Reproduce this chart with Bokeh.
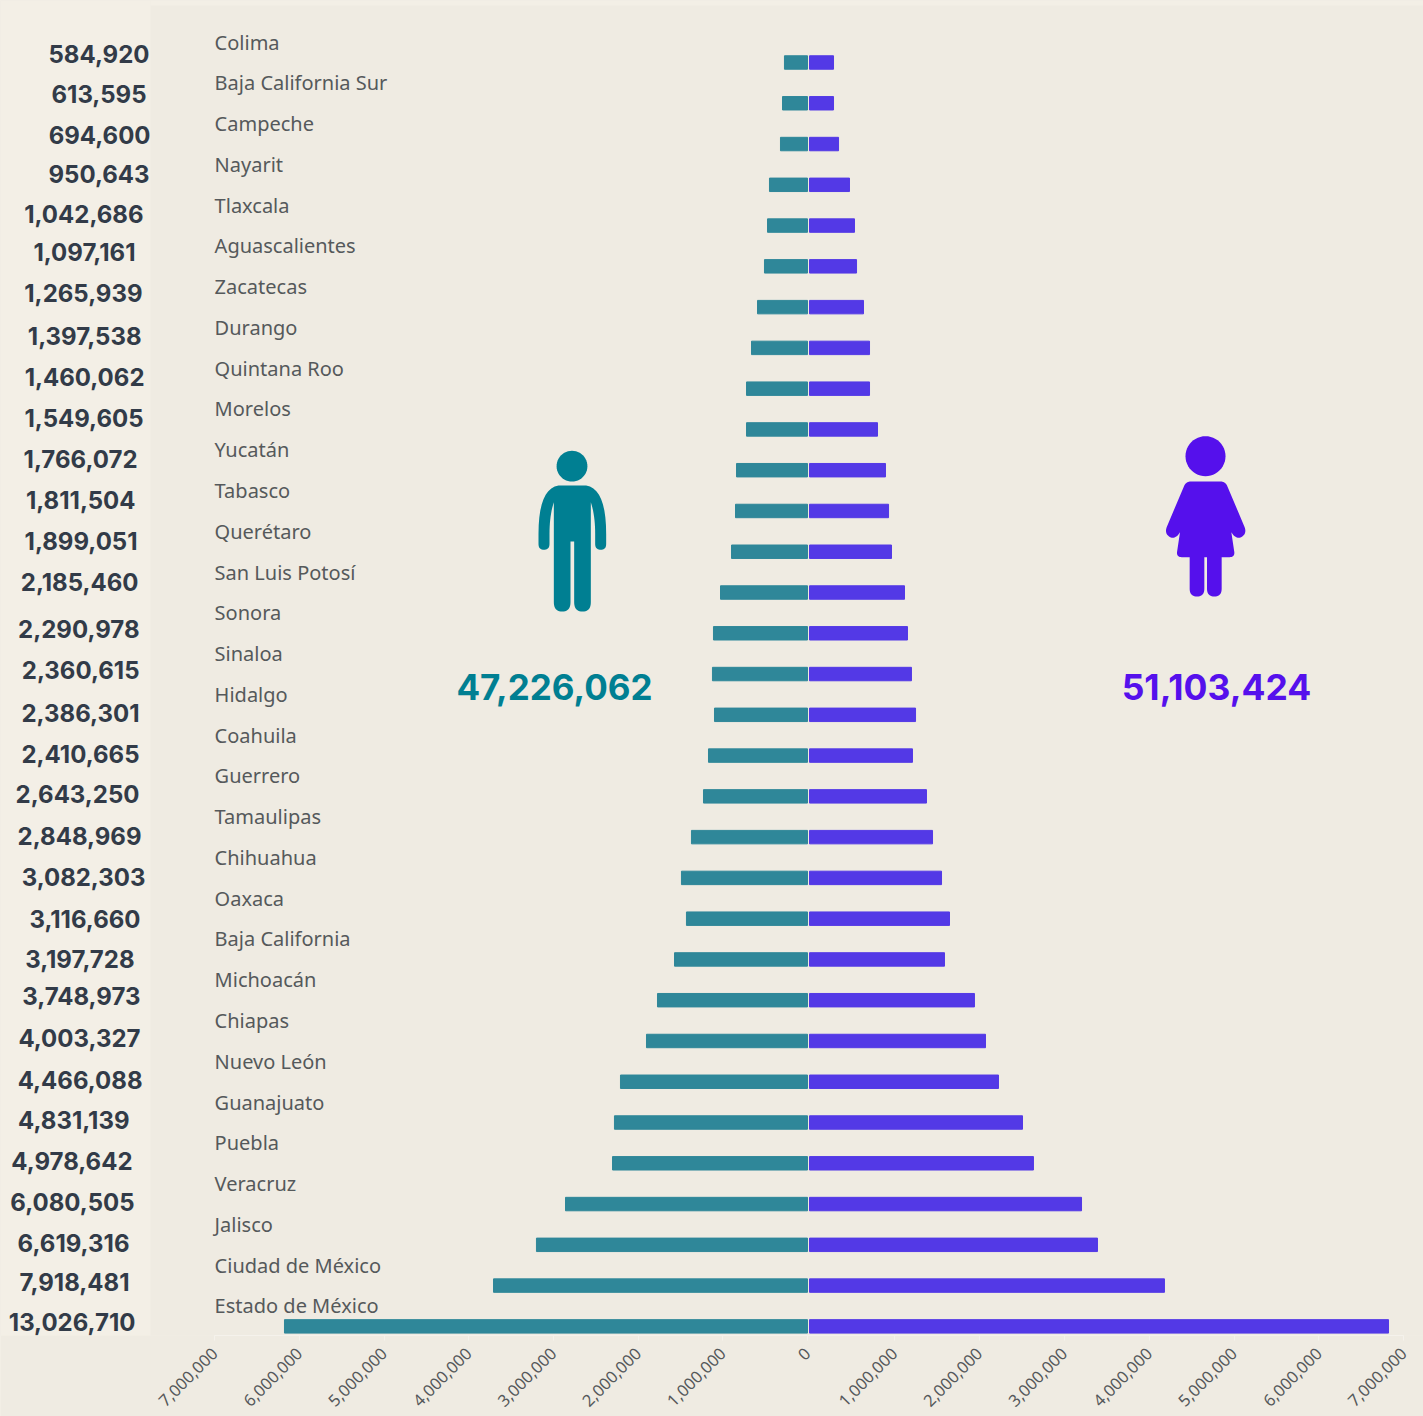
import math
from bokeh.core.properties import value
from bokeh.embed import file_html
from bokeh.models import BoxAnnotation, ColumnDataSource, FixedTicker, LinearAxis, Range1d
from bokeh.plotting import figure
from bokeh.resources import INLINE

states = ["Colima", "Baja California Sur", "Campeche", "Nayarit", "Tlaxcala", "Aguascalientes",
          "Zacatecas", "Durango", "Quintana Roo", "Morelos", "Yucatán", "Tabasco", "Querétaro",
          "San Luis Potosí", "Sonora", "Sinaloa", "Hidalgo", "Coahuila", "Guerrero", "Tamaulipas",
          "Chihuahua", "Oaxaca", "Baja California", "Michoacán", "Chiapas", "Nuevo León",
          "Guanajuato", "Puebla", "Veracruz", "Jalisco", "Ciudad de México", "Estado de México"]
totals = [584920, 613595, 694600, 950643, 1042686, 1097161, 1265939, 1397538, 1460062, 1549605,
          1766072, 1811504, 1899051, 2185460, 2290978, 2360615, 2386301, 2410665, 2643250, 2848969,
          3082303, 3116660, 3197728, 3748973, 4003327, 4466088, 4831139, 4978642, 6080505, 6619316,
          7918481, 13026710]
men = [272000, 295000, 319000, 449000, 472000, 508000, 590000, 661000, 720000, 720000, 838000,
       850000, 897000, 1027000, 1110000, 1122000, 1098000, 1169000, 1228000, 1370000, 1488000,
       1429000, 1570000, 1771000, 1901000, 2208000, 2279000, 2302000, 2857000, 3200000, 3707000,
       6175000]
women = [283000, 283000, 342000, 471000, 530000, 554000, 636000, 707000, 707000, 801000, 895000,
         931000, 966000, 1119000, 1154000, 1201000, 1249000, 1213000, 1378000, 1449000, 1555000,
         1649000, 1590000, 1943000, 2073000, 2226000, 2509000, 2638000, 3204000, 3392000, 4181000,
         6820000]
men_total = "47,226,062"
women_total = "51,103,424"
men_ticks = [0, 1000000, 2000000, 3000000, 4000000, 5000000, 6000000, 7000000]
women_ticks = [1000000, 2000000, 3000000, 4000000, 5000000, 6000000, 7000000]

# Hand-placed jitter of the total labels in the original (pixels)
total_dx = [-1, -4, 0, -1, -7, -15, -8, -9, -6, -7, -13, -15, -13, -12, -11, -11, -11, -11, -11, -9,
            -5, -10, -16, -10, -10, -8, -21, -18, -16, -21, -21, -15]
total_dy = [-9, -9, -9.5, -11, -12, -14, -14, -12, -12, -11, -11, -10.5, -11, -11, -4, -4, -2, -2, -2,
            -1, -1, 0, 0, -4, -2.5, -2, -3, -2, -2, -2, -4, -4]

OUTER = "#f3efe6"
PANEL = "#efebe2"
TEAL_BAR, VIOLET_BAR = "#2f8799", "#5339e6"
TEAL, VIOLET = "#007f92", "#5510ec"

W, H = 1423, 1416
SCALE_L, SCALE_R, ROW, ROW0 = 84.7e-6, 84.9e-6, 40.77, 62.0
ys = list(range(len(states)))


def xl(px):
    return (807 - px) / SCALE_L


def xr(px):
    return (px - 809) / SCALE_R


def yv(px):
    return (px - ROW0) / ROW


p = figure(width=W, height=H, x_range=Range1d(xl(0), xl(W)), y_range=Range1d(yv(1335), yv(0)),
           output_backend="svg", toolbar_location=None, x_axis_location=None, y_axis_location=None,
           min_border_left=0, min_border_right=0, min_border_top=0, min_border_bottom=81,
           background_fill_color=PANEL, border_fill_color=PANEL, outline_line_color=None)
p.extra_x_ranges = {"women": Range1d(xr(0), xr(W))}
p.xgrid.visible = False
p.ygrid.visible = False

# One axis on the men's scale; the women's ticks are placed at the matching position
overrides = {int(v): f"{v:,}" for v in men_ticks}
tick_pos = list(men_ticks)
for v in women_ticks:
    t = int(round(xl(809 + v * SCALE_R)))
    tick_pos.append(t)
    overrides[t] = f"{v:,}"
ax = LinearAxis(ticker=FixedTicker(ticks=tick_pos), major_label_overrides=overrides)
ax.bounds = (min(tick_pos), max(tick_pos))
ax.major_label_orientation = math.pi / 4
ax.major_label_text_font = "Noto Sans"
ax.major_label_text_font_size = "16.5px"
ax.major_label_text_color = "#55585a"
ax.major_label_standoff = 10
ax.axis_line_color = "#f5f2ec"
ax.major_tick_line_color = "#f5f2ec"
ax.minor_tick_line_color = None
ax.major_tick_in = 0
ax.major_tick_out = 5
p.add_layout(ax, "below")


def qbez(a, c, b, n=10):
    return [((1 - t) ** 2 * a[0] + 2 * t * (1 - t) * c[0] + t * t * b[0],
             (1 - t) ** 2 * a[1] + 2 * t * (1 - t) * c[1] + t * t * b[1])
            for t in [i / n for i in range(n + 1)]]


def circle_pts(cx, cy, r, n=48):
    return [(cx + r * math.cos(2 * math.pi * i / n), cy + r * math.sin(2 * math.pi * i / n)) for i in range(n)]


def mirrored(half, axis):
    return half + [(2 * axis - x, y) for x, y in reversed(half)]


def zoomed(pts, ox, oy):
    return [(ox + x / 3, oy + y / 3) for x, y in pts]


for box in (dict(left=0, right=150, top=0, bottom=H), dict(left=150, right=W, top=0, bottom=5)):
    p.add_layout(BoxAnnotation(**box, left_units="canvas", right_units="canvas", top_units="canvas",
                               bottom_units="canvas", fill_color=OUTER, fill_alpha=1, line_color=None,
                               level="underlay"))

# ---------- men
p.hbar(y=ys, left=0, right=men, height=0.33, color=TEAL_BAR)
p.text(x=[7000000] * len(states), y=ys, text=states, y_offset=-20.5, text_font=value("Noto Sans"),
       text_font_size="20px", text_color="#55595b", text_baseline="middle", text_align="left")
src = ColumnDataSource(dict(x=[xl(150)] * len(totals), y=ys, t=[f"{v:,}" for v in totals], dx=total_dx, dy=total_dy))
p.text(x="x", y="y", text="t", x_offset="dx", y_offset="dy", source=src, text_font=value("Inter"),
       text_font_style="bold", text_font_size="24px", text_color="#323b48", text_baseline="middle",
       text_align="right")
p.text(x=[xl(554)], y=[yv(686)], text=[men_total], text_font=value("Inter"), text_font_style="bold",
       text_font_size="35px", text_color=TEAL, text_baseline="middle", text_align="center")

man_half = [(153.5, 165), (115, 165)] + qbez((115, 165), (55, 175), (55, 310)) + [(55, 340)]
man_half += qbez((55, 340), (55, 358), (71, 358)) + qbez((71, 358), (88, 358), (88, 340))
man_half += [(88, 310)] + qbez((88, 310), (88, 255), (101, 215)) + [(101, 515)]
man_half += qbez((101, 515), (101, 543), (126, 543)) + qbez((126, 543), (151, 543), (151, 515))
man_half += [(151, 333), (153.5, 333)]
man_half = [(x - 1, y) for x, y in man_half]
man_body = zoomed(mirrored(man_half, 155.5), 520, 430)
man_head = circle_pts(571.5, 465.7, 15.4)
for shape in (man_body, man_head):
    p.patch([xl(a) for a, b in shape], [yv(b) for a, b in shape], color=TEAL, line_width=0)

# ---------- women
p.hbar(y=ys, left=0, right=women, height=0.33, color=VIOLET_BAR, x_range_name="women")
p.text(x=[xr(1216)], y=[yv(686)], text=[women_total], text_font=value("Inter"), text_font_style="bold",
       text_font_size="35.5px", text_color=VIOLET, text_baseline="middle", text_align="center", x_range_name="women")

wo_half = [(167, 168), (122, 168)] + qbez((122, 168), (108, 168), (102, 182)) + [(50, 305)]
wo_half += qbez((50, 305), (42, 328), (65, 337)) + qbez((65, 337), (80, 338), (90, 320))
wo_half += [(81, 380)] + qbez((81, 380), (80, 395), (95, 395)) + [(119, 395), (119, 490)]
wo_half += qbez((119, 490), (119, 513), (141, 513)) + qbez((141, 513), (163, 513), (163, 490))
wo_half += [(163, 395), (167, 395)]
wo_body = zoomed(mirrored(wo_half, 167), 1149.5, 425)
wo_head = circle_pts(1205, 455.7, 20)
for shape in (wo_body, wo_head):
    p.patch([xr(a) for a, b in shape], [yv(b) for a, b in shape], color=VIOLET, line_width=0, x_range_name="women")

TEMPLATE = """
{% block preamble %}<style>html, body { background: #f3efe6; }</style>{% endblock %}
"""
open("out.html", "w").write(file_html(p, INLINE, template=TEMPLATE))
